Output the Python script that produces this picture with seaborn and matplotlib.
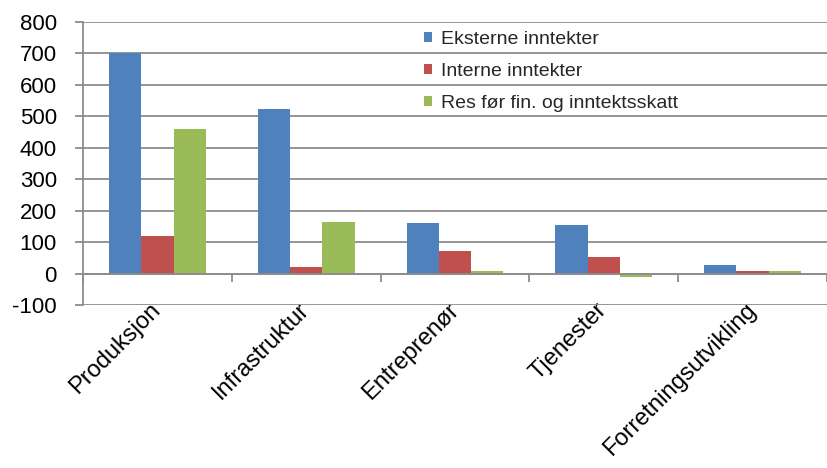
import matplotlib
matplotlib.use("Agg")
import matplotlib.pyplot as plt
import seaborn as sns
import pandas as pd
import numpy as np

categories = ["Produksjon", "Infrastruktur", "Entreprenør", "Tjenester", "Forretningsutvikling"]
series = ["Eksterne inntekter", "Interne inntekter", "Res før fin. og inntektsskatt"]
eksterne = [700, 522, 160, 154, 26]
interne = [121, 21, 72, 53, 8]
resultat = [459, 165, 7, -11, 7]
colors = ["#4F81BD", "#C0504D", "#9BBB59"]
yticks = [-100, 0, 100, 200, 300, 400, 500, 600, 700, 800]

rows = []
for s, vals in zip(series, [eksterne, interne, resultat]):
    for c, v in zip(categories, vals):
        rows.append({"Kategori": c, "Serie": s, "Verdi": v})
df = pd.DataFrame(rows)

sns.set_theme(style="white")
plt.rcParams["font.family"] = ["Liberation Sans", "DejaVu Sans"]

fig = plt.figure(figsize=(8.27, 4.68), dpi=100)
ax = fig.add_axes([83 / 827, 1 - 305 / 468, 1 - 83 / 827, (305 - 22) / 468])

sns.barplot(data=df, x="Kategori", y="Verdi", hue="Serie", order=categories,
            hue_order=series, palette=colors, width=0.65, gap=0, linewidth=0,
            saturation=1, ax=ax, errorbar=None)

grid_c = "#8C8C8C"
ax.set_ylim(-100, 800)
ax.set_xlim(-0.5, len(categories) - 0.5)
ax.set_yticks(yticks)
ax.set_yticklabels([str(t) for t in yticks])
ax.yaxis.grid(True, color=grid_c, linewidth=1.3)
ax.set_axisbelow(True)

for side in ["top", "right"]:
    ax.spines[side].set_visible(False)
ax.spines["left"].set_color(grid_c)
ax.spines["left"].set_linewidth(1.3)
ax.spines["bottom"].set_position(("data", 0))
ax.spines["bottom"].set_color(grid_c)
ax.spines["bottom"].set_linewidth(1.3)

ax.tick_params(axis="y", direction="out", length=5.8, width=1.3, color=grid_c,
               pad=13, labelsize=16, labelcolor="#000000", left=True)
ax.set_xticks(np.arange(len(categories)))
ax.set_xticklabels(categories)
ax.set_xticks(np.arange(len(categories) + 1) - 0.5, minor=True)
ax.tick_params(axis="x", which="major", length=0, pad=24, labelsize=17,
               labelcolor="#000000", bottom=True)
ax.tick_params(axis="x", which="minor", direction="out", length=5.8, width=1.3,
               color=grid_c, bottom=True)
for lbl in ax.get_xticklabels():
    lbl.set_rotation(45)
    lbl.set_rotation_mode("anchor")
    lbl.set_ha("right")
    lbl.set_va("center")

ax.set_xlabel("")
ax.set_ylabel("")

handles, labels = ax.get_legend_handles_labels()
ax.legend(handles, labels, loc="upper left", bbox_to_anchor=(424 / 827, 1 - 31 / 468),
          bbox_transform=fig.transFigure, frameon=False, fontsize=14,
          handlelength=0.4, handleheight=0.4, handletextpad=0.45,
          labelspacing=0.78, borderpad=0, borderaxespad=0)

fig.savefig("out.png", dpi=100)
